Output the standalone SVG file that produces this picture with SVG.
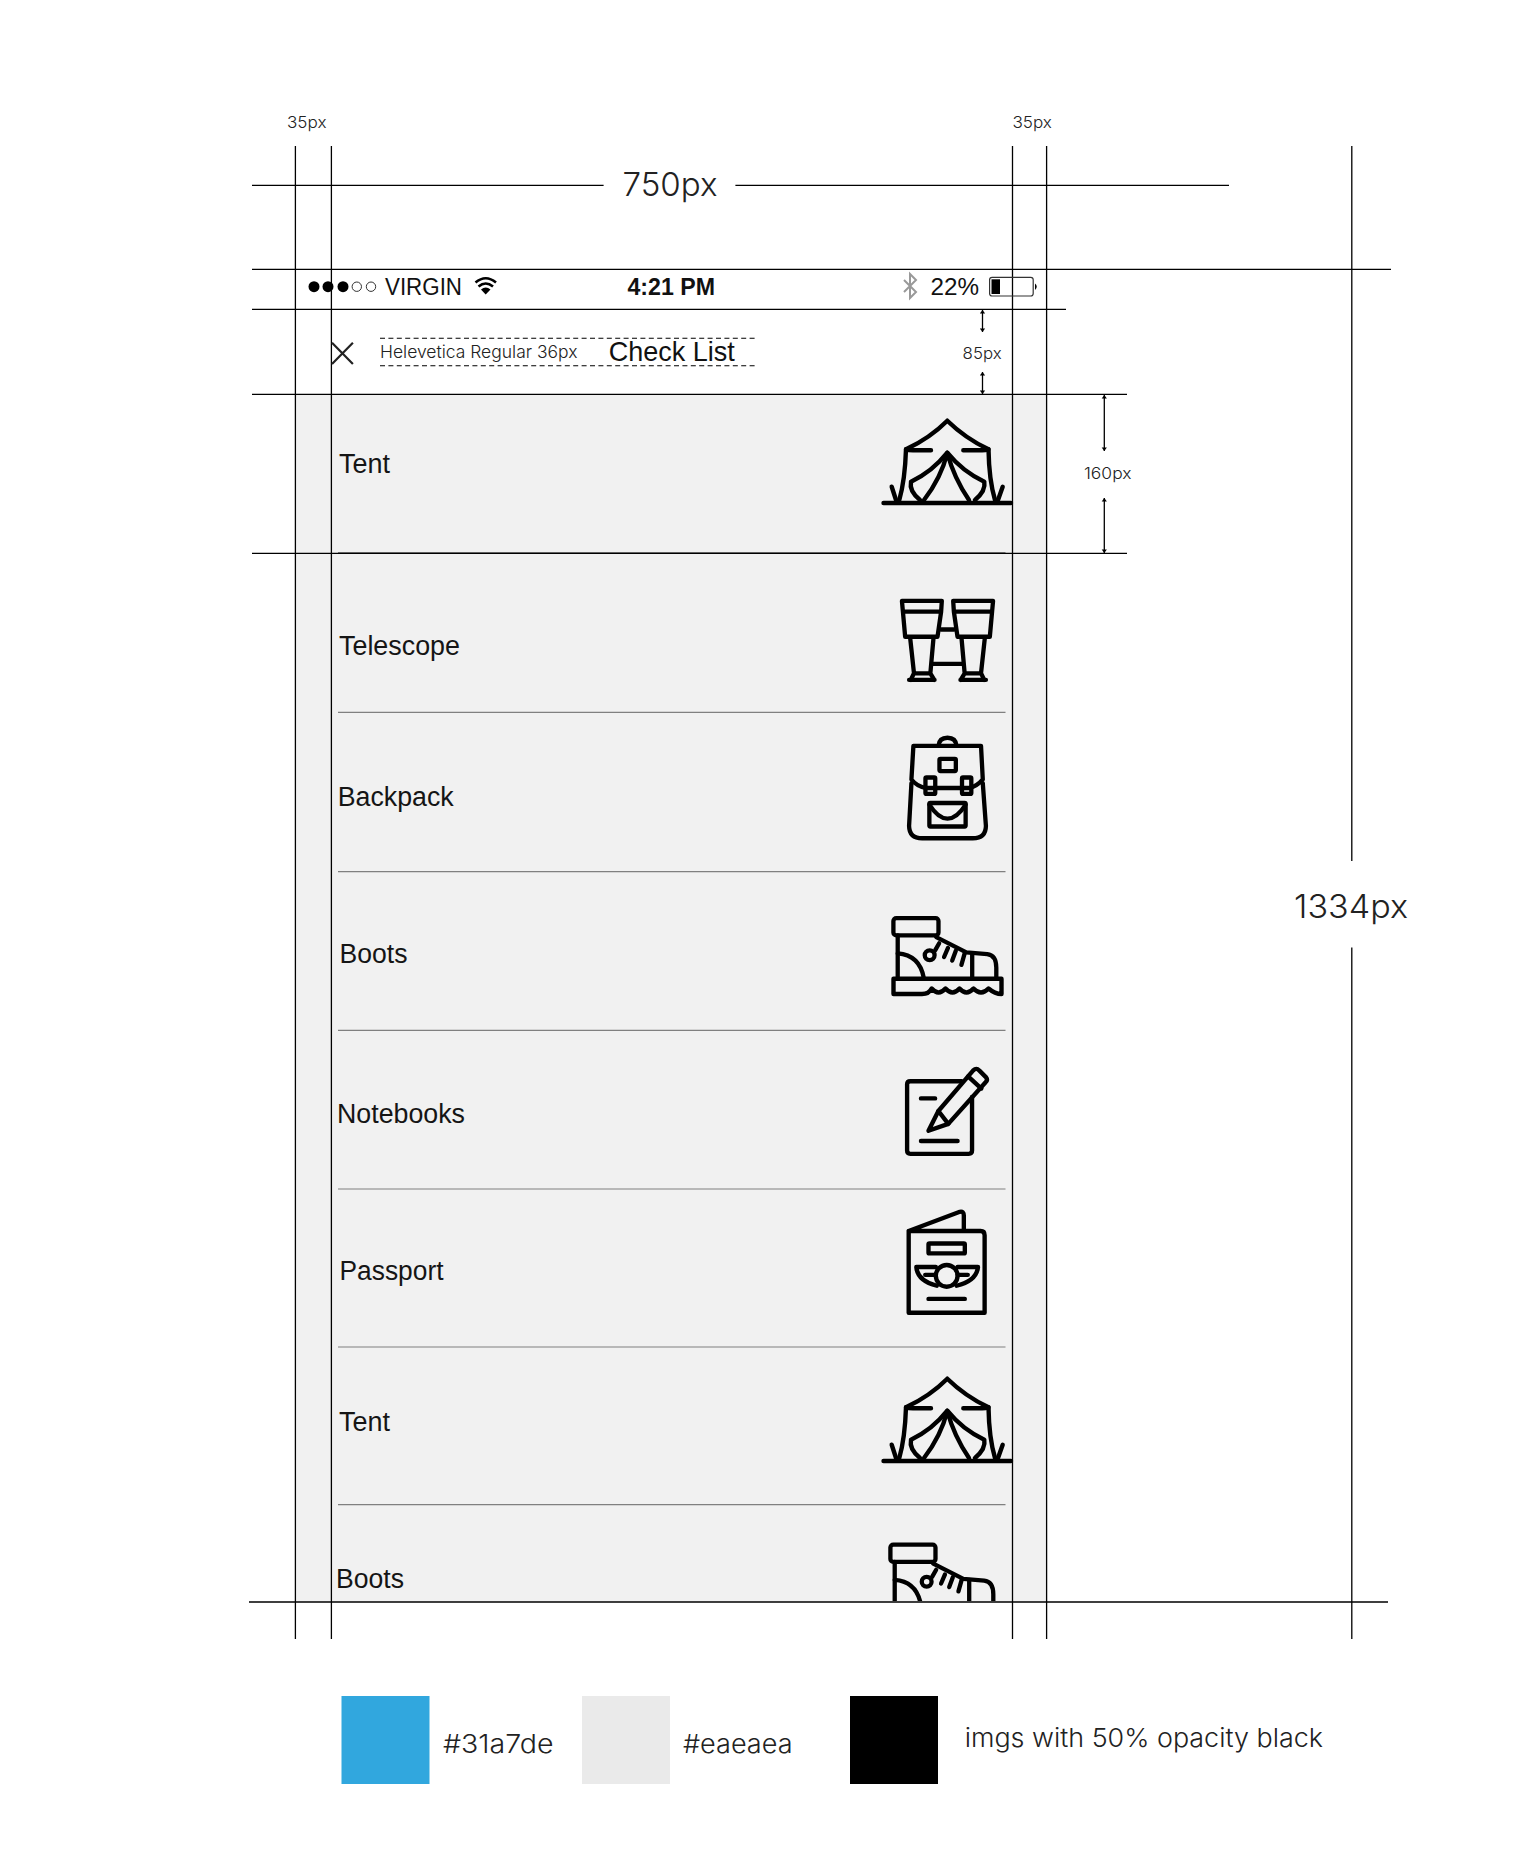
<svg xmlns="http://www.w3.org/2000/svg" xmlns:xlink="http://www.w3.org/1999/xlink" width="1526" height="1874" viewBox="0 0 1526 1874">
<style>
text{fill:#111;font-family:"Liberation Sans",Arial,sans-serif}
.l{font-family:Inter,"Liberation Sans",sans-serif;font-weight:300;fill:#222}
.row{font-size:27px;fill:#151515}
.g{stroke:#000;stroke-width:1.3;fill:none}
.sep{stroke:#808080;stroke-width:1.2}
.a{stroke:#000;stroke-width:1.3;fill:none;marker-start:url(#ah);marker-end:url(#ah)}
.i{fill:none;stroke:#000;stroke-width:4.4;stroke-linecap:round;stroke-linejoin:round}
</style>
<defs>
<marker id="ah" markerUnits="userSpaceOnUse" markerWidth="8" markerHeight="6" refX="7" refY="3" orient="auto-start-reverse"><path d="M3.5 0.4L7 3L3.5 5.6z" fill="#000"/></marker>
<clipPath id="clipBoot"><rect x="880" y="1530" width="125" height="71"/></clipPath>
<g id="tentIcon" class="i">
<path d="M883.5 503H1011"/>
<path d="M931 450.3H913Q908 450 906 449.3Q930 438 947.3 420.7Q965 438 988.5 449.3Q986 450 982 450.3H963.3"/>
<path d="M906 449.3Q905 480 899.3 500M988.5 449.3Q989 480 995 500"/>
<path d="M891.7 486.7L896 500M1002.7 486.7L998 500"/>
<path d="M920 500Q909 491 911 481.7Q932 472 947.3 452.7Q963 472 984.3 481.7Q986 491 975 500"/>
<path d="M924 500Q941 478 947.3 453Q954 478 969 500"/>
</g>
<g id="bootIcon" class="i" transform="translate(947.5 956) scale(.98) translate(-947.5 -956)">
<rect x="892.3" y="917.3" width="46" height="17.7" rx="3"/>
<path d="M896.7 935V978.3"/>
<path d="M936 936.7L966.7 952.3L988 954Q997.3 955 997.3 968V978.3"/>
<path d="M972.7 953.3V978.3"/>
<path d="M896.7 953.3Q919 955 923.3 978.3"/>
<circle cx="929.3" cy="955.3" r="5"/>
<path d="M935 950L939 943M944 957L948 947.7M952.3 960.7L956 950.7M961.7 965L965 953.3"/>
</g>
</defs>
<rect id="list-bg" x="295" y="394" width="751.5" height="1208" fill="#f1f1f1"/>
<g id="separators">
<path class="sep" d="M338 552.5H1005.5M338 712.3H1005.5M338 871.7H1005.5M338 1030.3H1005.5M338 1189H1005.5M338 1347H1005.5M338 1504.7H1005.5"/>
</g>
<g id="connectors">
<path class="g" d="M295.4 146V1639M331.4 146V1639M1012.5 146V1639M1046.6 146V1639M1351.8 146V861M1351.8 947.5V1639"/>
<path class="g" d="M252 185.3H603.6M735.4 185.3H1229M252 269.3H1391M252 309.3H1066M252 394.3H1127M252 553.3H1127M249 1602H1388"/>
<path class="a" d="M982.5 310V332"/>
<path class="a" d="M982.5 372V394"/>
<path class="a" d="M1104.3 395V451"/>
<path class="a" d="M1104.3 498V553"/>
</g>
<g id="guide-labels">
<text class="l" x="287" y="127.5" font-size="16.5" textLength="39.5" lengthAdjust="spacingAndGlyphs">35px</text>
<text class="l" x="1012.4" y="127.5" font-size="16.5" textLength="39.5" lengthAdjust="spacingAndGlyphs">35px</text>
<text class="l" x="622.5" y="196" font-size="33" textLength="95" lengthAdjust="spacingAndGlyphs">750px</text>
<text class="l" x="962.6" y="358.7" font-size="16.5" textLength="39" lengthAdjust="spacingAndGlyphs">85px</text>
<text class="l" x="1084" y="479" font-size="16.5" textLength="47.5" lengthAdjust="spacingAndGlyphs">160px</text>
<text class="l" x="1294" y="917.5" font-size="33" textLength="114" lengthAdjust="spacingAndGlyphs">1334px</text>
</g>
<g id="status-bar">
<circle cx="314" cy="286.7" r="5.5" fill="#000"/><circle cx="328" cy="286.7" r="5.5" fill="#000"/><circle cx="343" cy="286.7" r="5.5" fill="#000"/>
<circle cx="356.8" cy="286.7" r="4.7" fill="none" stroke="#333" stroke-width="1"/><circle cx="371" cy="286.7" r="4.7" fill="none" stroke="#333" stroke-width="1"/>
<text x="385" y="295" font-size="23" textLength="77" lengthAdjust="spacingAndGlyphs">VIRGIN</text>
<path d="M475.5 282.5Q485.7 274 496 282.5M478.5 286.5Q485.7 280.5 493 286.5" fill="none" stroke="#000" stroke-width="2.6"/><path d="M481 289.5Q485.7 285.5 490.5 289.5L485.7 294.5z" fill="#000"/>
<text x="627.5" y="295" font-size="23" font-weight="700" textLength="87.5" lengthAdjust="spacingAndGlyphs">4:21 PM</text>
<path d="M904 280L916 292L910 298V274L916 280L904 292" fill="none" stroke="#999" stroke-width="2"/>
<text x="930.5" y="295" font-size="23" textLength="48.5" lengthAdjust="spacingAndGlyphs">22%</text>
<rect x="989.6" y="277.3" width="43.6" height="18.7" rx="2.5" fill="none" stroke="#333" stroke-width="1.2"/>
<rect x="991.5" y="279.3" width="8.5" height="14.7" fill="#000"/>
<path d="M1035 283.5Q1038.5 286.5 1035 290z" fill="#000"/>
</g>
<g id="nav-bar">
<path d="M332 342.7L352.9 364M352.9 342.7L332 364" stroke="#222" stroke-width="2.2" fill="none"/>
<path d="M380 338.3H755.4M380 365.7H755.4" stroke="#000" stroke-width="1.1" stroke-dasharray="5 3.4" fill="none"/>
<text class="l" x="380" y="358" font-size="17.5" textLength="197.5" lengthAdjust="spacingAndGlyphs">Helevetica Regular 36px</text>
<text x="608.8" y="360.7" font-size="28" textLength="126" lengthAdjust="spacingAndGlyphs">Check List</text>
</g>
<g id="row-tent-1"><text class="row" x="339" y="473" textLength="51" lengthAdjust="spacingAndGlyphs">Tent</text><use href="#tentIcon"/></g>
<g id="row-telescope"><text class="row" x="339" y="655" textLength="121" lengthAdjust="spacingAndGlyphs">Telescope</text>
<g class="i" transform="translate(947.5 640) scale(.98) translate(-947.5 -640)">
<path d="M901 600H941.7L941 611H902zM902 611L904.3 636.7H937.3L941 611"/>
<path d="M909.3 637L913.3 674H930L933.3 637M910 680.7L913.3 674M934 680.7L930 674M908.3 680.7H934.3"/>
<path d="M994 600H953.3L954 611H993zM993 611L990.7 636.7H957.7L954 611"/>
<path d="M985.7 637L981.7 674H965L961.7 637M985 680.7L981.7 674M961 680.7L965 674M986.7 680.7H960.7"/>
<path d="M940.7 629.3H954.3M933 664.3H962"/>
</g></g>
<g id="row-backpack"><text class="row" x="337.7" y="806" textLength="116" lengthAdjust="spacingAndGlyphs">Backpack</text>
<g class="i" transform="translate(947.5 788) scale(.98) translate(-947.5 -788)">
<path d="M912.7 745H981.7L983.5 779.3Q978 786 970 788H925Q916 786 910.7 779.3z"/>
<path d="M938.3 745Q939 736.7 947.5 736.7Q956 736.7 956.7 745"/>
<rect x="939.3" y="758.3" width="16.7" height="12.4" rx="1"/>
<rect x="925" y="777.3" width="10" height="16.7" rx="1"/><rect x="962.3" y="777.3" width="9.5" height="16.7" rx="1"/>
<path d="M910.7 783L908.3 826.7Q908.5 839.3 921.7 839.3H973.3Q986.5 839.3 986.7 826.7L983.5 783"/>
<rect x="929" y="803.3" width="37" height="24" rx="1"/>
<path d="M929 805Q938 819.3 947.5 819.3Q957 819.3 966 805"/>
</g></g>
<g id="row-boots-1"><text class="row" x="339.5" y="963" textLength="68" lengthAdjust="spacingAndGlyphs">Boots</text>
<use href="#bootIcon"/>
<path class="i" d="M1001.5 978.8V994Q995 994 988.5 988.5Q981 996.5 973.5 988.5Q966.5 996.5 959.5 988.5Q952.5 996.5 945.5 988.5Q938.5 996.5 931.7 988.5Q929 994 922 994H893.5V978.8z"/>
</g>
<g id="row-notebooks"><text class="row" x="337" y="1122.5" textLength="128" lengthAdjust="spacingAndGlyphs">Notebooks</text>
<g class="i" transform="translate(947 1111) scale(.99) translate(-947 -1111)">
<path d="M961.7 1081H910Q906.7 1081 906.7 1084V1151Q906.7 1154.3 910 1154.3H969Q972.3 1154.3 972.3 1151V1096.7"/>
<path d="M920.7 1098.3H935M920.7 1141.3H957.7"/>
<path d="M928.3 1131L938.3 1111L973.5 1070Q976.7 1067 979.5 1070L986.5 1077Q988.5 1079.5 986 1082L948.3 1124z"/>
<path d="M968.3 1076L981.7 1088.3M938.3 1111L948.3 1124"/>
</g></g>
<g id="row-passport"><text class="row" x="339.5" y="1280" textLength="104" lengthAdjust="spacingAndGlyphs">Passport</text>
<g class="i" transform="translate(947 1262) scale(.99) translate(-947 -1262)">
<path d="M908.3 1230.7H981Q985 1230.7 985 1235V1313.3H908.3zM908.3 1230.7L960 1211.3Q964 1210.5 964 1215V1230"/>
<rect x="928.3" y="1243.3" width="36.7" height="10" rx="1"/>
<circle cx="946.7" cy="1276" r="11"/>
<path d="M935.7 1267H916Q917 1281 936.7 1286M957.7 1267H978.3Q977 1281 956.7 1286M925 1275H935.7M968 1275H957.7"/>
<path d="M928.3 1299.3H965"/>
</g></g>
<g id="row-tent-2"><text class="row" x="339" y="1431" textLength="51" lengthAdjust="spacingAndGlyphs">Tent</text><use href="#tentIcon" transform="translate(0 958)"/></g>
<g id="row-boots-2"><text class="row" x="336" y="1588" textLength="68" lengthAdjust="spacingAndGlyphs">Boots</text>
<g clip-path="url(#clipBoot)"><g transform="translate(-3 626.5)"><use href="#bootIcon"/></g></g></g>
<g id="legend">
<rect x="341.5" y="1696" width="88" height="88" fill="#31a7de"/>
<text class="l" x="443" y="1752.7" font-size="26" textLength="110.5" lengthAdjust="spacingAndGlyphs">#31a7de</text>
<rect x="582" y="1696" width="88" height="88" fill="#eaeaea"/>
<text class="l" x="683" y="1752.7" font-size="26" textLength="109.5" lengthAdjust="spacingAndGlyphs">#eaeaea</text>
<rect x="850" y="1696" width="88" height="88" fill="#000"/>
<text class="l" x="964.7" y="1746.7" font-size="26" textLength="358.3" lengthAdjust="spacingAndGlyphs">imgs with 50% opacity black</text>
</g>
</svg>
